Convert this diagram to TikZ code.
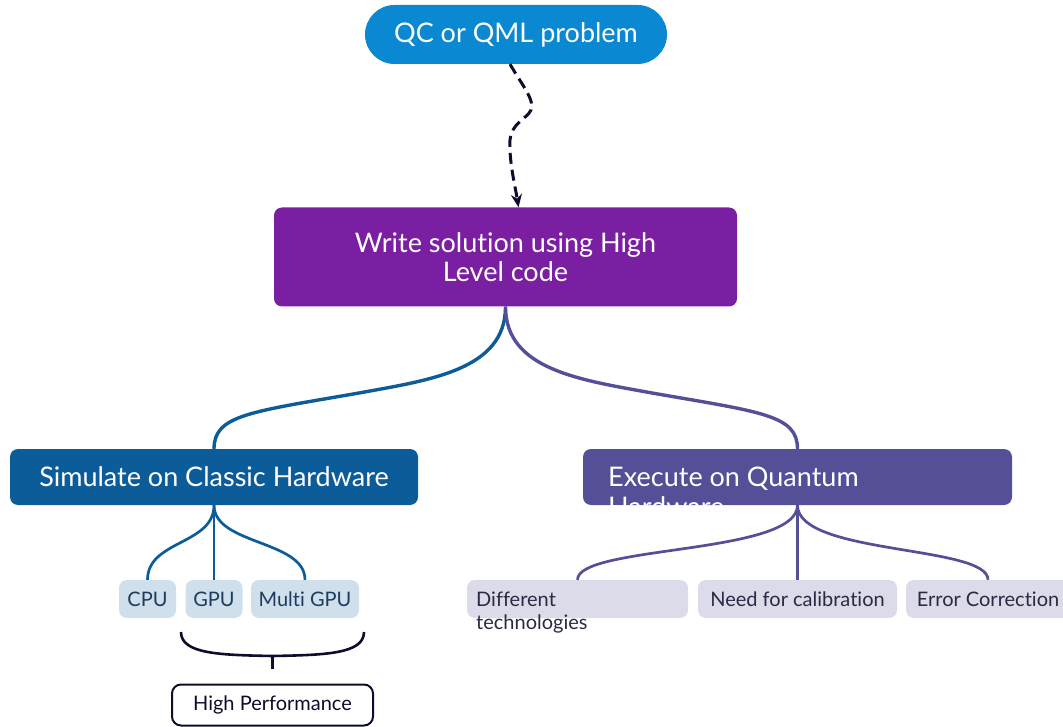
\documentclass[tikz,border=0pt]{standalone}
\usepackage{fontspec}
\setmainfont[Ligatures={NoCommon}]{Lato}
\usetikzlibrary{arrows.meta}

\definecolor{qcblue}{HTML}{0A89D2}
\definecolor{hlpurple}{HTML}{7B1FA2}
\definecolor{simblue}{HTML}{0D5C9A}
\definecolor{qpurple}{HTML}{544F97}
\definecolor{lightblue}{HTML}{CFDFEB}
\definecolor{lightlilac}{HTML}{DCDBE9}
\definecolor{darkbluetext}{HTML}{1E3D5E}
\definecolor{darklilactext}{HTML}{2B2A45}
\definecolor{navy}{HTML}{0E0E2C}

\begin{document}
\begin{tikzpicture}[x=1pt,y=-1pt,
  bigfont/.style={font=\fontsize{27}{29}\selectfont},
  smallfont/.style={font=\fontsize{20}{22}\selectfont},
  bigbox/.style={rounded corners=8pt, inner sep=0pt, text=white, bigfont},
  leaf/.style={rounded corners=8pt, inner sep=0pt, minimum height=38pt, smallfont},
  bluelink/.style={draw=simblue, line width=3.4pt},
  purplelink/.style={draw=qpurple, line width=3.4pt},
  bluetwig/.style={draw=simblue, line width=2.7pt},
  purpletwig/.style={draw=qpurple, line width=2.7pt},
]
\useasboundingbox (0,0) rectangle (1063,727);

% top problem node
\node[bigbox, fill=qcblue, rounded corners=29.5pt, minimum width=302pt, minimum height=59pt]
  (qc) at (516,34.5) {QC or QML problem};

% high level code node
\node[bigbox, fill=hlpurple, minimum width=463pt, minimum height=99pt, align=center]
  (write) at (505.5,257) {Write solution using High\\Level code};

% dashed wavy arrow
\draw[navy, line width=3pt, dash pattern=on 11pt off 6pt, -{Stealth[length=13pt,width=11pt]}]
  ([xshift=-6pt]qc.south) .. controls (522,85) and (535,100) .. (531,110)
  .. controls (527,119) and (512,122) .. (510,140)
  .. controls (509,162) and (515,185) .. ([xshift=13pt]write.north);

% the two branches
\node[bigbox, fill=simblue, minimum width=408pt, minimum height=56pt]
  (sim) at (214,477) {Simulate on Classic Hardware};
\node[bigbox, fill=qpurple, minimum width=429pt, minimum height=56pt]
  (exe) at (797.5,477) {};
\begin{scope}
  \clip[rounded corners=8pt] (exe.south west) rectangle (exe.north east);
  \node[anchor=base west, inner sep=0pt, text=white, bigfont] (exeA) at (608,486) {Execute on Quantum};
  \node[anchor=base west, inner sep=0pt, text=white, bigfont] (exeB) at (608,516) {Hardware};
\end{scope}

\draw[bluelink] (write.south) .. controls (505.5,370) and (430,380) .. (359,393)
  .. controls (250,412) and (214,415) .. (sim.north);
\draw[purplelink] (write.south) .. controls (505.5,370) and (581,380) .. (652,393)
  .. controls (761,412) and (797.5,415) .. (exe.north);

% classic hardware leaves
\node[leaf, fill=lightblue, text=darkbluetext, minimum width=57pt] (cpu) at (147.5,599) {CPU};
\node[leaf, fill=lightblue, text=darkbluetext, minimum width=57pt] (gpu) at (214,599) {GPU};
\node[leaf, fill=lightblue, text=darkbluetext, minimum width=108pt] (mgpu) at (305,599) {Multi GPU};

\draw[bluetwig] (sim.south) .. controls (214,545) and (147.5,540) .. (cpu.north);
\draw[bluetwig] (sim.south) -- (gpu.north);
\draw[bluetwig] (sim.south) .. controls (214,545) and (305,540) .. (mgpu.north);

% brace under the GPU leaves
\coordinate (braceL) at (181,632);
\coordinate (braceR) at (364,632);
\coordinate (braceM) at (272.5,656);
\coordinate (braceTip) at (272.5,669);
\draw[navy, line width=2.6pt]
  (braceL) .. controls (181,654) and (220,655) .. (braceM)
  .. controls (325,655) and (364,654) .. (braceR);
\draw[navy, line width=2.6pt] (braceM) -- (braceTip);

\node[draw=navy, line width=2pt, fill=white, rounded corners=9pt, minimum width=201pt,
  minimum height=41pt, inner sep=0pt, smallfont, text=navy] (hp) at (272.5,705) {High Performance};

% quantum hardware leaves
\node[leaf, fill=lightlilac, minimum width=221pt] (diff) at (577.5,599) {};
\node[anchor=base west, inner sep=0pt, smallfont, text=darklilactext] (diffA) at (476,606) {Different};
\node[anchor=base west, inner sep=0pt, smallfont, text=darklilactext] (diffB) at (476,629) {technologies};
\node[leaf, fill=lightlilac, text=darklilactext, minimum width=199pt] (need) at (797.5,599) {Need for calibration};
\node[leaf, fill=lightlilac, text=darklilactext, minimum width=164pt] (err) at (988,599) {Error Correction};

\draw[purpletwig] (exe.south) .. controls (797.5,555) and (577.5,545) .. (diff.north);
\draw[purpletwig] (exe.south) -- (need.north);
\draw[purpletwig] (exe.south) .. controls (797.5,555) and (988,545) .. (err.north);
\end{tikzpicture}
\end{document}
